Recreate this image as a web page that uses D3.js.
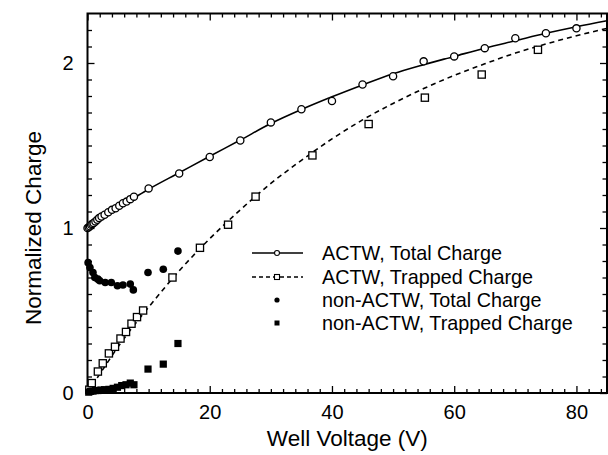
<!DOCTYPE html>
<html>
<head>
<meta charset="utf-8">
<script src="https://cdn.jsdelivr.net/npm/d3@7"></script>
<style>
  body { margin: 0; background: #fff; }
  text { font-family: "Liberation Sans", Arial, sans-serif; fill: #000; }
</style>
</head>
<body>
<svg width="608" height="455"></svg>
<script>
// Data
var actwTotalV = [0, 0.2, 0.4, 0.6, 0.8, 1.0, 1.3, 1.6, 1.9, 2.3, 2.8, 3.4, 4.0, 4.6, 5.2, 5.8, 6.4, 7.0, 7.6,
                  10, 15, 20, 25, 30, 35, 40, 45, 50, 55, 60, 65, 70, 75, 80];
var actwTotalQ = [1.0, 1.005, 1.01, 1.02, 1.025, 1.03, 1.04, 1.05, 1.06, 1.07, 1.08, 1.095, 1.11, 1.12, 1.135, 1.15, 1.16, 1.175, 1.19,
                  1.24, 1.33, 1.43, 1.53, 1.64, 1.72, 1.77, 1.87, 1.92, 2.01, 2.04, 2.09, 2.15, 2.18, 2.21];

var actwTrapV = [0.3, 0.7, 1.7, 2.5, 3.5, 4.5, 5.4, 6.3, 7.2, 8.1, 9.1, 13.9, 18.4, 23.0, 27.5, 36.8, 46.0, 55.2, 64.5, 73.7];
var actwTrapQ = [0.02, 0.06, 0.13, 0.18, 0.24, 0.28, 0.33, 0.37, 0.42, 0.46, 0.50, 0.70, 0.88, 1.02, 1.19, 1.44, 1.63, 1.79, 1.93, 2.08];

var nonTotalV = [0.1, 0.4, 0.9, 1.2, 1.7, 2.0, 2.9, 3.9, 4.9, 5.8, 7.0, 7.5, 9.9, 12.4, 14.8];
var nonTotalQ = [0.79, 0.76, 0.73, 0.70, 0.69, 0.68, 0.67, 0.67, 0.65, 0.655, 0.66, 0.625, 0.73, 0.75, 0.86];

var nonTrapV = [0.2, 0.5, 0.9, 1.3, 1.7, 2.2, 2.8, 3.5, 4.2, 4.9, 5.6, 6.3, 7.0, 7.6, 9.9, 12.4, 14.8];
var nonTrapQ = [0.005, 0.01, 0.012, 0.015, 0.015, 0.018, 0.02, 0.022, 0.028, 0.035, 0.045, 0.05, 0.06, 0.05, 0.145, 0.175, 0.30];

// fitted curves
var fitV = [0, 1, 2, 3, 5, 7.5, 10, 15, 20, 25, 30, 35, 40, 45, 50, 55, 60, 65, 70, 75, 80, 85];
var fitTotalQ = [1.0, 1.03, 1.055, 1.08, 1.125, 1.18, 1.235, 1.335, 1.435, 1.533, 1.633, 1.718, 1.795, 1.867, 1.935, 1.99, 2.04, 2.09, 2.135, 2.18, 2.22, 2.256];
var fitTrapQ = [0, 0.058, 0.115, 0.17, 0.28, 0.405, 0.52, 0.74, 0.935, 1.11, 1.27, 1.41, 1.54, 1.655, 1.755, 1.845, 1.925, 1.995, 2.06, 2.115, 2.165, 2.21];

var xMajor = [0, 20, 40, 60, 80];
var yMajor = [0, 1, 2];
var legendLabels = ["ACTW, Total Charge", "ACTW, Trapped Charge", "non-ACTW, Total Charge", "non-ACTW, Trapped Charge"];

var svg = d3.select("svg");
var plotL = 87.5, plotR = 607, plotT = 13.5, plotB = 393;

var x = d3.scaleLinear().domain([0, 85]).range([plotL, plotR]);
var y = d3.scaleLinear().domain([0, 2.3]).range([plotB, plotT]);

var xMinor = d3.range(0, 86, 2).filter(function (d) { return d % 20 != 0; });
var yMinor = d3.range(0, 23).map(function (d) { return d / 10; }).filter(function (d) { return Math.round(d * 10) % 10 != 0; });

function tidy(g) {
    g.select(".domain").remove();
    g.selectAll(".tick line").attr("stroke", "#000").attr("stroke-width", 1.3);
}

// Axes: ticks point inward on all four sides
svg.append("g").attr("transform", "translate(0," + plotB + ")")
    .call(d3.axisBottom(x).tickValues(xMinor).tickSize(-4).tickFormat(""))
    .call(tidy);
svg.append("g").attr("transform", "translate(0," + plotB + ")")
    .call(d3.axisBottom(x).tickValues(xMajor).tickSize(-7).tickPadding(12).tickFormat(d3.format("d")))
    .call(tidy)
    .selectAll("text").style("font-size", "20px");
svg.append("g").attr("transform", "translate(0," + plotT + ")")
    .call(d3.axisTop(x).tickValues(xMinor).tickSize(-4).tickFormat(""))
    .call(tidy);
svg.append("g").attr("transform", "translate(0," + plotT + ")")
    .call(d3.axisTop(x).tickValues(xMajor).tickSize(-7).tickFormat(""))
    .call(tidy);

svg.append("g").attr("transform", "translate(" + plotL + ",0)")
    .call(d3.axisLeft(y).tickValues(yMinor).tickSize(-4.5).tickFormat(""))
    .call(tidy);
svg.append("g").attr("transform", "translate(" + plotL + ",0)")
    .call(d3.axisLeft(y).tickValues(yMajor).tickSize(-7).tickPadding(14).tickFormat(d3.format("d")))
    .call(tidy)
    .selectAll("text").style("font-size", "20px");
svg.append("g").attr("transform", "translate(" + plotR + ",0)")
    .call(d3.axisRight(y).tickValues(yMinor).tickSize(-4.5).tickFormat(""))
    .call(tidy);
svg.append("g").attr("transform", "translate(" + plotR + ",0)")
    .call(d3.axisRight(y).tickValues(yMajor).tickSize(-7).tickFormat(""))
    .call(tidy);

// frame
svg.append("rect")
    .attr("x", plotL).attr("y", plotT)
    .attr("width", plotR - plotL).attr("height", plotB - plotT)
    .attr("fill", "none").attr("stroke", "#000").attr("stroke-width", 2);

// axis titles
svg.append("text")
    .attr("x", (plotL + plotR) / 2).attr("y", 446)
    .attr("text-anchor", "middle")
    .style("font-size", "22.5px")
    .text("Well Voltage (V)");
svg.append("text")
    .attr("transform", "translate(41,228) rotate(-90)")
    .attr("text-anchor", "middle")
    .style("font-size", "22.5px")
    .text("Normalized Charge");

// fitted lines
var line = d3.line()
    .x(function (d) { return x(d[0]); })
    .y(function (d) { return y(d[1]); })
    .curve(d3.curveMonotoneX);

svg.append("path")
    .datum(d3.zip(fitV, fitTotalQ))
    .attr("d", line)
    .attr("fill", "none").attr("stroke", "#000").attr("stroke-width", 1.6);
svg.append("path")
    .datum(d3.zip(fitV, fitTrapQ))
    .attr("d", line)
    .attr("fill", "none").attr("stroke", "#000").attr("stroke-width", 1.6)
    .attr("stroke-dasharray", "5,4");

// markers
svg.append("g").selectAll("circle")
    .data(d3.zip(actwTotalV, actwTotalQ))
    .enter().append("circle")
    .attr("cx", function (d) { return x(d[0]); })
    .attr("cy", function (d) { return y(d[1]); })
    .attr("r", 3.6)
    .attr("fill", "#fff").attr("stroke", "#000").attr("stroke-width", 1.3);

svg.append("g").selectAll("rect")
    .data(d3.zip(actwTrapV, actwTrapQ))
    .enter().append("rect")
    .attr("x", function (d) { return x(d[0]) - 3.6; })
    .attr("y", function (d) { return y(d[1]) - 3.6; })
    .attr("width", 7.2).attr("height", 7.2)
    .attr("fill", "#fff").attr("stroke", "#000").attr("stroke-width", 1.3);

svg.append("g").selectAll("circle")
    .data(d3.zip(nonTotalV, nonTotalQ))
    .enter().append("circle")
    .attr("cx", function (d) { return x(d[0]); })
    .attr("cy", function (d) { return y(d[1]); })
    .attr("r", 3.8)
    .attr("fill", "#000");

svg.append("g").selectAll("rect")
    .data(d3.zip(nonTrapV, nonTrapQ))
    .enter().append("rect")
    .attr("x", function (d) { return x(d[0]) - 3.6; })
    .attr("y", function (d) { return y(d[1]) - 3.6; })
    .attr("width", 7.2).attr("height", 7.2)
    .attr("fill", "#000");

// legend
var lg = svg.append("g");
var rowY = [253, 277, 300, 323];
var sx0 = 252, sx1 = 303, sxm = 277;

lg.append("line").attr("x1", sx0).attr("x2", sx1).attr("y1", rowY[0]).attr("y2", rowY[0])
    .attr("stroke", "#000").attr("stroke-width", 1.4);
lg.append("circle").attr("cx", sxm).attr("cy", rowY[0]).attr("r", 2.5)
    .attr("fill", "#fff").attr("stroke", "#000").attr("stroke-width", 1.1);
lg.append("line").attr("x1", sx0).attr("x2", sx1).attr("y1", rowY[1]).attr("y2", rowY[1])
    .attr("stroke", "#000").attr("stroke-width", 1.4).attr("stroke-dasharray", "4,3");
lg.append("rect").attr("x", sxm - 2.5).attr("y", rowY[1] - 2.5).attr("width", 5).attr("height", 5)
    .attr("fill", "#fff").attr("stroke", "#000").attr("stroke-width", 1.1);
lg.append("circle").attr("cx", sxm).attr("cy", rowY[2]).attr("r", 2.6).attr("fill", "#000");
lg.append("rect").attr("x", sxm - 2.5).attr("y", rowY[3] - 2.5).attr("width", 5).attr("height", 5).attr("fill", "#000");

lg.selectAll("text")
    .data(legendLabels)
    .enter().append("text")
    .attr("x", 322)
    .attr("y", function (d, i) { return rowY[i]; })
    .attr("dy", "0.36em")
    .style("font-size", "19.8px")
    .text(function (d) { return d; });
</script>
</body>
</html>
